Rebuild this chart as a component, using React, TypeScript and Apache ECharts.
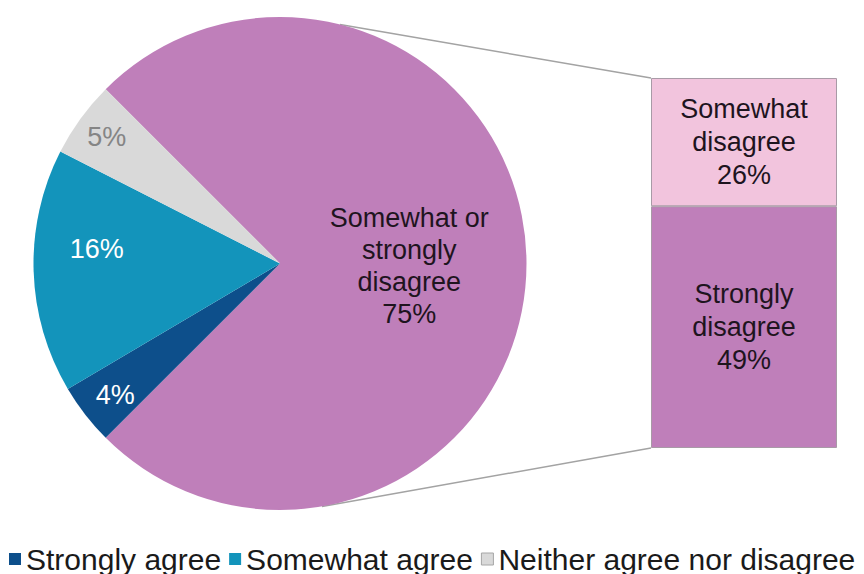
import React, { useEffect, useRef } from "react";
import * as echarts from "echarts";

// ---- data ----
const pieNames = [
  "Somewhat or strongly disagree",
  "Strongly agree",
  "Somewhat agree",
  "Neither agree nor disagree",
];
const pieValues = [75, 4, 16, 5];
const pieLabels = ["Somewhat or\nstrongly\ndisagree\n75%", "4%", "16%", "5%"];

const barNames = ["Strongly disagree", "Somewhat disagree"];
const barValues = [49, 26];
const barLabels = ["Strongly\ndisagree\n49%", "Somewhat\ndisagree\n26%"];

const legendNames = ["Strongly agree", "Somewhat agree", "Neither agree nor disagree"];

// ---- styles ----
const pieColors = ["#bf7fba", "#0d4f8b", "#1394bb", "#d9d9d9"];
const pieLabelColors = ["#1e141e", "#ffffff", "#ffffff", "#858585"];
const labelNudge = [
  [3, 2],
  [-65, 54],
  [-57, -18],
  [-71, -52],
];
const barColors = ["#bf7fba", "#f2c4dd"];
const FONT = "'Liberation Sans', Arial, sans-serif";

const PIE_CX = 280;
const PIE_CY = 263.5;
const PIE_R = 246.5;
const BAR_LEFT = 651;
const BAR_TOP = 78;
const BAR_W = 186;
const BAR_H = 370;

export default function App() {
  const ref = useRef<HTMLDivElement>(null);
  useEffect(() => {
    if (!ref.current) return;
    const chart = echarts.init(ref.current, undefined, { renderer: "svg" });
    const total = barValues.reduce((a, b) => a + b, 0);
    chart.setOption({
      animation: false,
      backgroundColor: "#ffffff",
      textStyle: { fontFamily: FONT },
      grid: { left: BAR_LEFT, top: BAR_TOP, width: BAR_W, height: BAR_H },
      xAxis: { type: "category", data: ["bar"], show: false },
      yAxis: { type: "value", min: 0, max: total, show: false },
      legend: {
        data: legendNames.map((n) =>
          n === "Neither agree nor disagree"
            ? { name: n, itemStyle: { borderColor: "#a6a6a6", borderWidth: 1 } }
            : { name: n }
        ),
        left: 4,
        top: 539,
        icon: "rect",
        itemWidth: 12,
        itemHeight: 12,
        itemGap: 8,
        textStyle: { fontSize: 30, color: "#1a1a1a", fontFamily: FONT },
      },
      graphic: [
        {
          type: "line",
          shape: { x1: 340, y1: 24.5, x2: BAR_LEFT, y2: BAR_TOP },
          style: { stroke: "#a3a3a3", lineWidth: 1.5 },
          z: 0,
        },
        {
          type: "line",
          shape: { x1: 322, y1: 506.5, x2: BAR_LEFT, y2: BAR_TOP + BAR_H },
          style: { stroke: "#a3a3a3", lineWidth: 1.5 },
          z: 0,
        },
      ],
      series: [
        {
          type: "pie",
          center: [PIE_CX, PIE_CY],
          radius: PIE_R,
          startAngle: 135,
          clockwise: true,
          silent: true,
          data: pieNames.map((n, i) => ({
            name: n,
            value: pieValues[i],
            itemStyle: { color: pieColors[i] },
            label: { color: pieLabelColors[i], formatter: pieLabels[i] },
          })),
          itemStyle: { borderWidth: 0 },
          label: {
            show: true,
            position: "inside",
            fontSize: 27,
            lineHeight: 32,
            fontFamily: FONT,
            align: "center",
          },
          labelLine: { show: false },
          labelLayout: (p: any) => ({
            dx: labelNudge[p.dataIndex][0],
            dy: labelNudge[p.dataIndex][1],
          }),
        },
        ...barNames.map((n, i) => ({
          type: "bar",
          name: n,
          stack: "b",
          barWidth: "100%",
          silent: true,
          data: [barValues[i]],
          itemStyle: { color: barColors[i], borderColor: "#a89aa6", borderWidth: 1 },
          label: {
            show: true,
            position: "inside",
            formatter: barLabels[i],
            fontSize: 27,
            lineHeight: 33,
            color: "#1e141e",
            fontFamily: FONT,
          },
        })),
      ],
    });
    return () => chart.dispose();
  }, []);
  return (
    <div
      ref={ref}
      style={{ position: "fixed", left: 0, top: 0, width: 864, height: 574, background: "#fff" }}
    />
  );
}
